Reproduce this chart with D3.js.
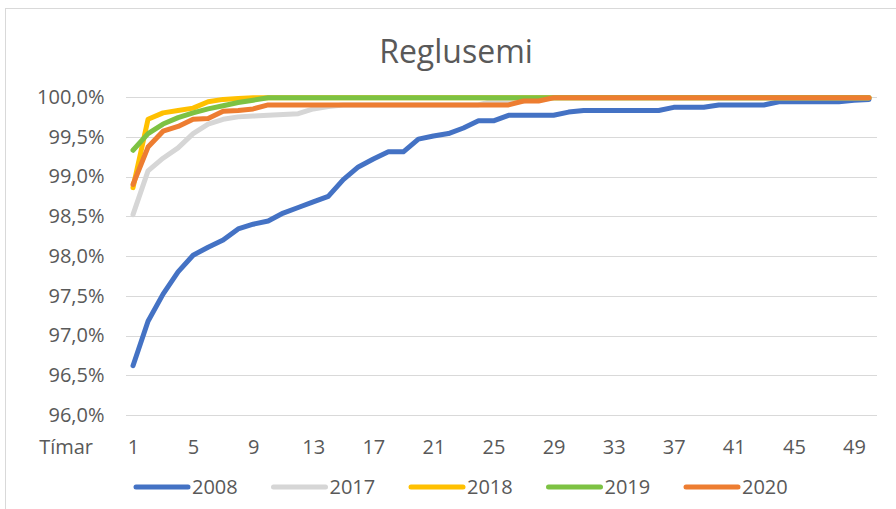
<!DOCTYPE html>
<html>
<head>
<meta charset="utf-8">
<script src="https://cdn.jsdelivr.net/npm/d3@7/dist/d3.min.js"></script>
<style>
  html, body { margin: 0; padding: 0; background: #fff; }
  svg { display: block; font-family: "Open Sans", sans-serif; }
</style>
</head>
<body>
<svg id="chart" width="896" height="509"></svg>
<script>
const categories = d3.range(1, 51);
const xTickLabels = [1, 5, 9, 13, 17, 21, 25, 29, 33, 37, 41, 45, 49];
const yTicks = [96.0, 96.5, 97.0, 97.5, 98.0, 98.5, 99.0, 99.5, 100.0];
const seriesNames = ["2008", "2017", "2018", "2019", "2020"];

const v2008 = [96.62, 97.18, 97.52, 97.80, 98.01, 98.11, 98.20, 98.34, 98.40, 98.44,
               98.54, 98.61, 98.68, 98.75, 98.96, 99.12, 99.22, 99.31, 99.31, 99.47,
               99.51, 99.54, 99.61, 99.70, 99.70, 99.77, 99.77, 99.77, 99.77, 99.81,
               99.83, 99.83, 99.83, 99.83, 99.83, 99.83, 99.87, 99.87, 99.87, 99.90,
               99.90, 99.90, 99.90, 99.94, 99.94, 99.94, 99.94, 99.94, 99.96, 99.97];
const v2017 = [98.52, 99.07, 99.23, 99.36, 99.54, 99.66, 99.72, 99.75, 99.76, 99.77,
               99.78, 99.79, 99.85, 99.88, 99.90, 99.90, 99.90, 99.90, 99.90, 99.90,
               99.90, 99.90, 99.90, 99.90, 99.95, 99.95, 99.95, 99.99, 99.99, 99.99,
               99.99, 99.99, 99.99, 99.99, 99.99, 99.99, 99.99, 99.99, 99.99, 99.99,
               99.99, 99.99, 99.99, 99.99, 99.99, 99.99, 99.99, 99.99, 99.99, 99.99];
const v2018 = [98.86, 99.72, 99.80, 99.83, 99.86, 99.94, 99.97, 99.98, 99.99, 99.99,
               99.99, 99.99, 99.99, 99.99, 99.99, 99.99, 99.99, 99.99, 99.99, 99.99,
               99.99, 99.99, 99.99, 99.99, 99.99, 99.99, 99.99, 99.99, 99.99, 99.99,
               99.99, 99.99, 99.99, 99.99, 99.99, 99.99, 99.99, 99.99, 99.99, 99.99,
               99.99, 99.99, 99.99, 99.99, 99.99, 99.99, 99.99, 99.99, 99.99, 99.99];
const v2019 = [99.33, 99.54, 99.66, 99.74, 99.80, 99.85, 99.89, 99.93, 99.96, 99.99,
               99.99, 99.99, 99.99, 99.99, 99.99, 99.99, 99.99, 99.99, 99.99, 99.99,
               99.99, 99.99, 99.99, 99.99, 99.99, 99.99, 99.99, 99.99, 99.99, 99.99,
               99.99, 99.99, 99.99, 99.99, 99.99, 99.99, 99.99, 99.99, 99.99, 99.99,
               99.99, 99.99, 99.99, 99.99, 99.99, 99.99, 99.99, 99.99, 99.99, 99.99];
const v2020 = [98.90, 99.37, 99.57, 99.63, 99.72, 99.73, 99.82, 99.83, 99.85, 99.90,
               99.90, 99.90, 99.90, 99.90, 99.90, 99.90, 99.90, 99.90, 99.90, 99.90,
               99.90, 99.90, 99.90, 99.90, 99.90, 99.90, 99.95, 99.95, 99.99, 99.99,
               99.99, 99.99, 99.99, 99.99, 99.99, 99.99, 99.99, 99.99, 99.99, 99.99,
               99.99, 99.99, 99.99, 99.99, 99.99, 99.99, 99.99, 99.99, 99.99, 99.99];

const seriesValues = [v2008, v2017, v2018, v2019, v2020];
const colors = ["#4472C4", "#D6D6D6", "#FFC000", "#7DC243", "#ED7D31"];

const svg = d3.select("#chart");

// chart border
svg.append("rect")
  .attr("x", 5.5).attr("y", 8.5)
  .attr("width", 920).attr("height", 520)
  .attr("fill", "#fff").attr("stroke", "#D9D9D9").attr("stroke-width", 1);

const x = d3.scalePoint().domain(categories).range([125.5, 876.5]).padding(0.5);
const y = d3.scaleLinear().domain([96, 100]).range([415, 97]);

const fmt = v => d3.format(".1f")(v).replace(".", ",") + "%";

// gridlines + y labels via axis
const yAxis = d3.axisLeft(y)
  .tickValues(yTicks)
  .tickSize(-(876.5 - 125.5))
  .tickPadding(21)
  .tickFormat(fmt);
const gy = svg.append("g").attr("transform", "translate(125.5,0)").call(yAxis);
gy.select(".domain").remove();
gy.selectAll(".tick line").attr("stroke", "#D9D9D9").attr("stroke-width", 1)
  .attr("shape-rendering", "crispEdges");
gy.selectAll(".tick text")
  .attr("fill", "#595959").attr("font-size", 20)
  .attr("font-family", "Open Sans, sans-serif");

// x labels via axis
const xAxis = d3.axisBottom(x).tickValues(xTickLabels).tickSize(0).tickPadding(0);
const gx = svg.append("g").attr("transform", "translate(0,433)").call(xAxis);
gx.select(".domain").remove();
gx.selectAll(".tick text")
  .attr("fill", "#595959").attr("font-size", 20)
  .attr("font-family", "Open Sans, sans-serif")
  .attr("dy", 0).attr("y", 21);

svg.append("text")
  .attr("x", 93).attr("y", 454)
  .attr("text-anchor", "end")
  .attr("fill", "#595959").attr("font-size", 20)
  .text("Tímar");

// title
svg.append("text")
  .attr("x", 456).attr("y", 63)
  .attr("text-anchor", "middle")
  .attr("fill", "#595959").attr("font-size", 32)
  .text("Reglusemi");

// lines
const line = d3.line()
  .x((d, i) => x(categories[i]))
  .y(d => y(d));

seriesValues.forEach((vals, k) => {
  svg.append("path")
    .datum(vals)
    .attr("d", line)
    .attr("fill", "none")
    .attr("stroke", colors[k])
    .attr("stroke-width", 5)
    .attr("stroke-linejoin", "round")
    .attr("stroke-linecap", "round");
});

// legend
const legend = svg.append("g").attr("transform", "translate(136,487)");
seriesNames.forEach((name, k) => {
  const g = legend.append("g").attr("transform", `translate(${k * 137.5},0)`);
  g.append("line")
    .attr("x1", 0).attr("x2", 52).attr("y1", 0).attr("y2", 0)
    .attr("stroke", colors[k]).attr("stroke-width", 5)
    .attr("stroke-linecap", "round");
  g.append("text")
    .attr("x", 56).attr("y", 7)
    .attr("fill", "#595959").attr("font-size", 20)
    .text(name);
});
</script>
</body>
</html>
